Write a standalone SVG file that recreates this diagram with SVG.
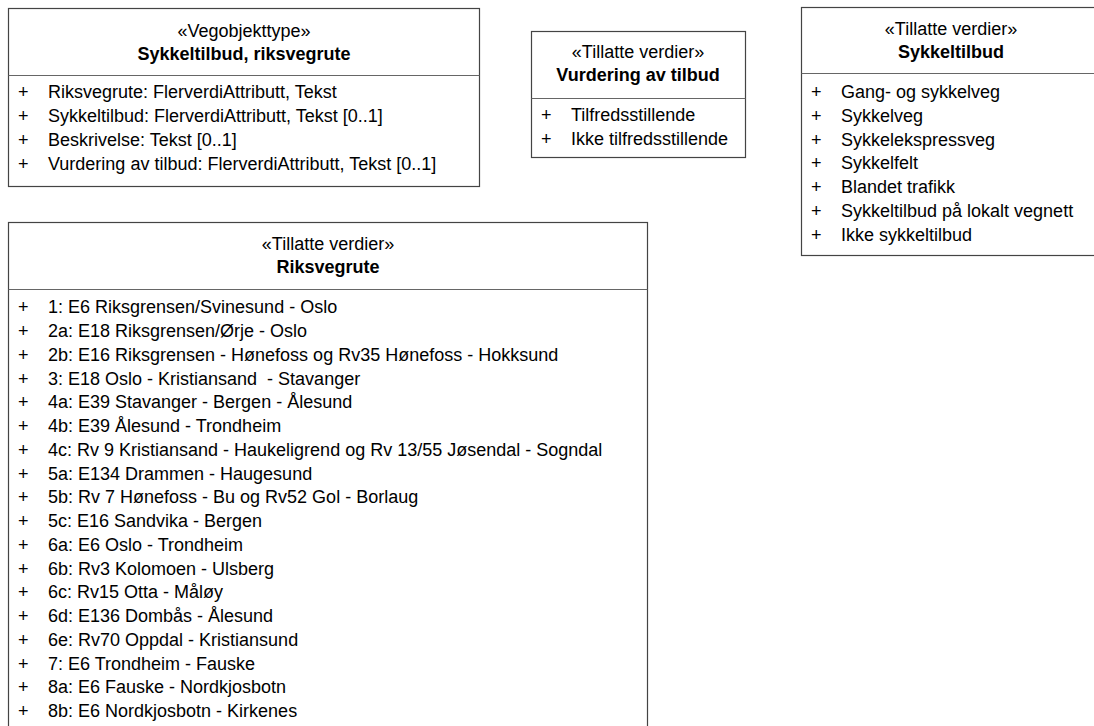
<svg xmlns="http://www.w3.org/2000/svg" width="1094" height="726" viewBox="0 0 1094 726">
<style>
.box{fill:#fff;stroke:#444;stroke-width:1.2}
.div{stroke:#666;stroke-width:1.2}
text{font-family:"Liberation Sans",Arial,sans-serif;font-size:18px;fill:#000}
.st{text-anchor:middle}
.nm{text-anchor:middle;font-weight:bold}
</style>
<rect width="1094" height="726" fill="#fff"/>
<g id="vegobjekttype">
<rect class="box" x="8.5" y="8.5" width="471" height="178"/>
<line class="div" x1="8.5" y1="75.5" x2="479.5" y2="75.5"/>
<text class="st" x="244" y="37">«Vegobjekttype»</text>
<text class="nm" x="244" y="60">Sykkeltilbud, riksvegrute</text>
<text x="18" y="98">+</text><text x="48" y="98">Riksvegrute: FlerverdiAttributt, Tekst</text>
<text x="18" y="122">+</text><text x="48" y="122">Sykkeltilbud: FlerverdiAttributt, Tekst [0..1]</text>
<text x="18" y="146">+</text><text x="48" y="146">Beskrivelse: Tekst [0..1]</text>
<text x="18" y="170">+</text><text x="48" y="170">Vurdering av tilbud: FlerverdiAttributt, Tekst [0..1]</text>
</g>
<g id="vurdering">
<rect class="box" x="531.5" y="31.5" width="214" height="126"/>
<line class="div" x1="531.5" y1="98.5" x2="745.5" y2="98.5"/>
<text class="st" x="638" y="58">«Tillatte verdier»</text>
<text class="nm" x="638" y="81">Vurdering av tilbud</text>
<text x="541" y="121">+</text><text x="571" y="121">Tilfredsstillende</text>
<text x="541" y="145">+</text><text x="571" y="145">Ikke tilfredsstillende</text>
</g>
<g id="sykkeltilbud">
<rect class="box" x="801.5" y="7.5" width="300" height="248"/>
<line class="div" x1="801.5" y1="73.5" x2="1101.5" y2="73.5"/>
<text class="st" x="951" y="35">«Tillatte verdier»</text>
<text class="nm" x="951" y="58">Sykkeltilbud</text>
<text x="811" y="98">+</text><text x="841" y="98">Gang- og sykkelveg</text>
<text x="811" y="122">+</text><text x="841" y="122">Sykkelveg</text>
<text x="811" y="146">+</text><text x="841" y="146">Sykkelekspressveg</text>
<text x="811" y="169">+</text><text x="841" y="169">Sykkelfelt</text>
<text x="811" y="193">+</text><text x="841" y="193">Blandet trafikk</text>
<text x="811" y="217">+</text><text x="841" y="217">Sykkeltilbud på lokalt vegnett</text>
<text x="811" y="241">+</text><text x="841" y="241">Ikke sykkeltilbud</text>
</g>
<g id="riksvegrute">
<rect class="box" x="8.5" y="222.5" width="639" height="520"/>
<line class="div" x1="8.5" y1="289.5" x2="647.5" y2="289.5"/>
<text class="st" x="328" y="250">«Tillatte verdier»</text>
<text class="nm" x="328" y="273">Riksvegrute</text>
<text x="18" y="313">+</text><text x="48" y="313">1: E6 Riksgrensen/Svinesund - Oslo</text>
<text x="18" y="337">+</text><text x="48" y="337">2a: E18 Riksgrensen/Ørje - Oslo</text>
<text x="18" y="361">+</text><text x="48" y="361">2b: E16 Riksgrensen - Hønefoss og Rv35 Hønefoss - Hokksund</text>
<text x="18" y="385">+</text><text x="48" y="385" xml:space="preserve">3: E18 Oslo - Kristiansand  - Stavanger</text>
<text x="18" y="408">+</text><text x="48" y="408">4a: E39 Stavanger - Bergen - Ålesund</text>
<text x="18" y="432">+</text><text x="48" y="432">4b: E39 Ålesund - Trondheim</text>
<text x="18" y="456">+</text><text x="48" y="456">4c: Rv 9 Kristiansand - Haukeligrend og Rv 13/55 Jøsendal - Sogndal</text>
<text x="18" y="480">+</text><text x="48" y="480">5a: E134 Drammen - Haugesund</text>
<text x="18" y="503">+</text><text x="48" y="503">5b: Rv 7 Hønefoss - Bu og Rv52 Gol - Borlaug</text>
<text x="18" y="527">+</text><text x="48" y="527">5c: E16 Sandvika - Bergen</text>
<text x="18" y="551">+</text><text x="48" y="551">6a: E6 Oslo - Trondheim</text>
<text x="18" y="575">+</text><text x="48" y="575">6b: Rv3 Kolomoen - Ulsberg</text>
<text x="18" y="598">+</text><text x="48" y="598">6c: Rv15 Otta - Måløy</text>
<text x="18" y="622">+</text><text x="48" y="622">6d: E136 Dombås - Ålesund</text>
<text x="18" y="646">+</text><text x="48" y="646">6e: Rv70 Oppdal - Kristiansund</text>
<text x="18" y="670">+</text><text x="48" y="670">7: E6 Trondheim - Fauske</text>
<text x="18" y="693">+</text><text x="48" y="693">8a: E6 Fauske - Nordkjosbotn</text>
<text x="18" y="717">+</text><text x="48" y="717">8b: E6 Nordkjosbotn - Kirkenes</text>
</g>
<g id="connectors"></g>
</svg>
